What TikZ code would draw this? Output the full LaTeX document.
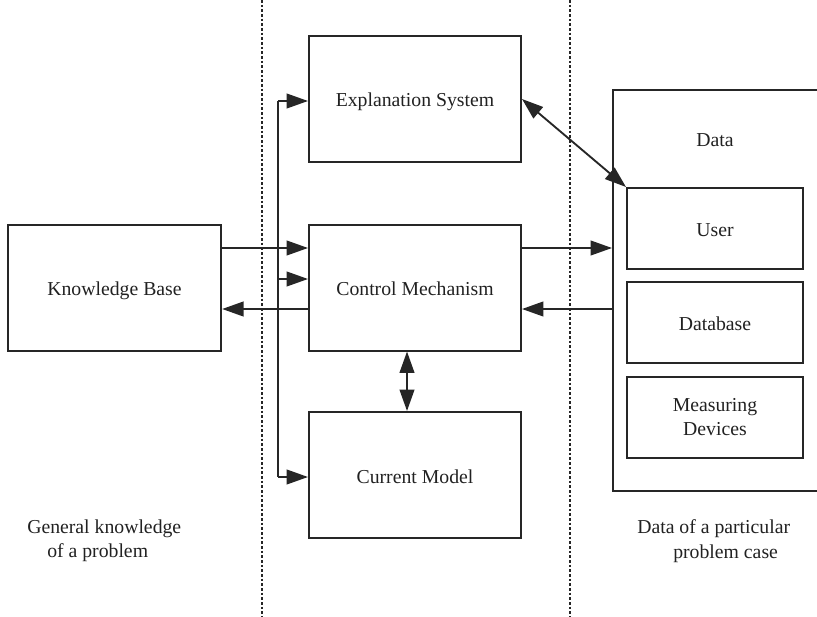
\documentclass[tikz,border=0pt]{standalone}
\usepackage{fontspec}
\setmainfont{Liberation Serif}
\usetikzlibrary{arrows.meta,calc}
\begin{document}
\begin{tikzpicture}[x=0.75pt,y=-0.75pt,
  lbl/.style={font=\fontsize{14.8pt}{18pt}\selectfont, text=black!87},
  frame/.style={lbl,draw=black!85,line width=1.5pt,inner sep=0pt},
  box/.style={frame,minimum width=159pt,minimum height=94.5pt,text height=12pt,text depth=0pt},
  sbox/.style={frame,minimum width=132pt,minimum height=60.75pt},
  conn/.style={line width=1.4pt,draw=black!85},
  tip/.tip={Triangle[length=16pt,width=11pt]},
  arr/.style={conn,-tip},
  darr/.style={conn,tip-tip},
  sep/.style={line width=1.1pt,draw=black!85,dash pattern=on 2pt off 1.5pt}]
\useasboundingbox (0,0) rectangle (817,617);
\clip (0,0) rectangle (817,617);
% separators
\draw[sep] (262,0) -- (262,617);
\draw[sep] (570,0) -- (570,617);
% boxes
\node[box] (es) at (415,99) {Explanation System};
\node[box] (cm) at (415,287.5) {Control Mechanism};
\node[box] (cur) at (415,475) {Current Model};
\node[box, minimum width=160pt] (kb) at (114.5,287.5) {Knowledge Base};
\node[draw=black!85, line width=1.5pt, minimum width=162.75pt, minimum height=300.75pt, inner sep=0pt] (data) at (721.5,290.5) {};
\node[lbl] (datalbl) at (715,140) {Data};
\node[sbox,text height=12pt,text depth=0pt] (user) at (715,228.5) {User};
\node[sbox,text height=12pt,text depth=0pt] (db) at (715,322.5) {Database};
\node[sbox, align=center] (md) at (715,417) {Measuring\\Devices};
% helper coordinates
\coordinate (ya) at (0,248);
\coordinate (yb) at (0,309);
\coordinate (bt) at (278,101);
\coordinate (bm) at (278,279);
\coordinate (bb) at (278,477);
\coordinate (vx) at (407,0);
% connectors
\draw[arr] (kb.east|-ya) -- (cm.west|-ya);
\draw[arr] (cm.west|-yb) -- (kb.east|-yb);
\draw[conn] (bt) -- (bb);
\draw[arr] (bt) -- (es.west|-bt);
\draw[arr] (bm) -- (cm.west|-bm);
\draw[arr] (bb) -- (cur.west|-bb);
\draw[arr] (cm.east|-ya) -- (data.west|-ya);
\draw[arr] (data.west|-yb) -- (cm.east|-yb);
\draw[darr] (cm.south-|vx) -- (cur.north-|vx);
\draw[darr] (es.east) -- (user.north west);
% bottom labels
\node[lbl, anchor=base west, inner sep=0pt] (g1) at (27,533) {General knowledge};
\node[lbl, anchor=base west, inner sep=0pt] (g2) at (47,557) {of a problem};
\node[lbl, anchor=base west, inner sep=0pt] (d1) at (637,533) {Data of a particular};
\node[lbl, anchor=base west, inner sep=0pt] (d2) at (673,558) {problem case};
\end{tikzpicture}
\end{document}
